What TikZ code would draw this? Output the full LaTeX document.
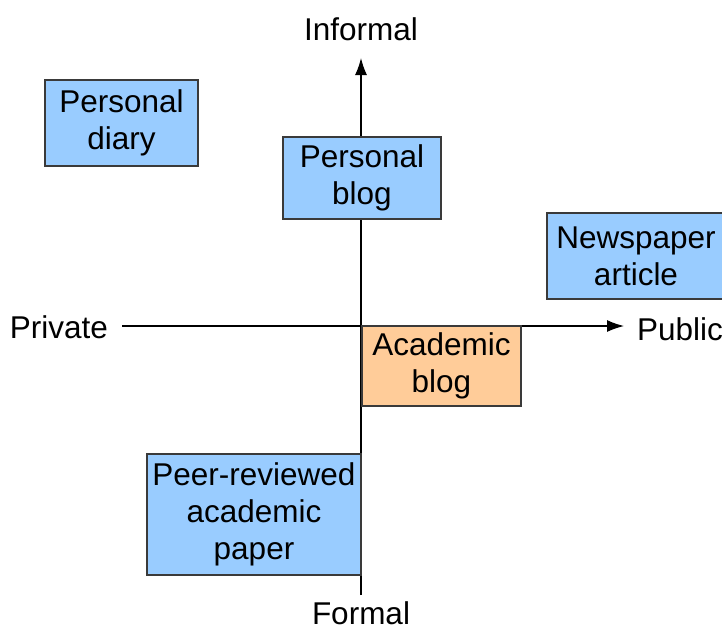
\documentclass[tikz,border=0pt]{standalone}
\usepackage{fontspec}
\setmainfont{Liberation Sans}
\usetikzlibrary{arrows.meta}
\definecolor{boxblue}{HTML}{99CCFF}
\definecolor{boxorange}{HTML}{FFCC99}
\definecolor{boxline}{HTML}{3A3A3A}
\tikzset{
  quad/.style={draw=boxline,line width=1.2pt,align=center,inner sep=0pt,
    font=\fontsize{31.5}{37}\selectfont},
  bluebox/.style={quad,fill=boxblue},
  orangebox/.style={quad,fill=boxorange},
  axislabel/.style={font=\fontsize{31.5}{37}\selectfont,inner sep=0pt},
  axis/.style={line width=1.3pt,-{Latex[length=17pt,width=12pt]}}
}
\begin{document}
\begin{tikzpicture}[x=1pt,y=-1pt]
  \useasboundingbox (0,0) rectangle (722,633);
  \clip (0,0) rectangle (722,633);
  \node[axislabel] (informal) at (361,29) {Informal};
  \node[axislabel] (formal) at (361,613) {Formal};
  \node[axislabel] (private) at (59,327) {Private};
  \node[axislabel] (public) at (680,329) {Public};
  \coordinate (xstart) at (122,326);
  \coordinate (xend) at (624,326);
  \coordinate (ystart) at (361,595);
  \coordinate (yend) at (361,58);
  \draw[axis] (xstart) -- (xend);
  \draw[axis] (ystart) -- (yend);
  \node[bluebox,minimum width=153pt,minimum height=86pt] (diary) at (121.5,123) {Personal\\diary};
  \node[bluebox,minimum width=158pt,minimum height=82pt] (pblog) at (362,178) {Personal\\blog};
  \node[bluebox,minimum width=178pt,minimum height=86pt] (news) at (636,256) {Newspaper\\article};
  \node[orangebox,minimum width=159pt,minimum height=80pt] (ablog) at (441.5,366) {Academic\\blog};
  \node[bluebox,minimum width=214pt,minimum height=121pt] (paper) at (254,514.5) {Peer-reviewed\\academic\\paper};
\end{tikzpicture}
\end{document}
